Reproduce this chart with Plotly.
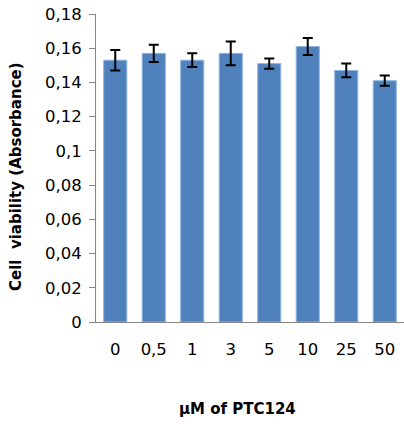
import plotly.graph_objects as go

categories = ["0", "0,5", "1", "3", "5", "10", "25", "50"]
values = [0.153, 0.157, 0.153, 0.157, 0.151, 0.161, 0.147, 0.141]
errors = [0.006, 0.005, 0.004, 0.007, 0.003, 0.005, 0.004, 0.003]
y_tickvals = [0, 0.02, 0.04, 0.06, 0.08, 0.1, 0.12, 0.14, 0.16, 0.18]
y_ticktext = ["0", "0,02", "0,04", "0,06", "0,08", "0,1", "0,12", "0,14", "0,16", "0,18"]
x_title = "µM of PTC124"
y_title = "Cell  viability (Absorbance)"

font_family = "DejaVu Sans, sans-serif"

fig = go.Figure(go.Bar(
    x=categories, y=values,
    marker=dict(color="#4F81BD", line=dict(color="#8EB4E3", width=1)),
    width=0.6,
    error_y=dict(type="data", array=errors, color="black", thickness=2, width=5),
))

fig.update_layout(
    width=404, height=424,
    margin=dict(l=96, r=0, t=14, b=102),
    plot_bgcolor="white", paper_bgcolor="white",
    showlegend=False,
    font=dict(family=font_family, size=16, color="black"),
    xaxis=dict(
        showline=True, linecolor="#868686", linewidth=1,
        ticks="", tickfont=dict(size=16.5), ticklabelstandoff=12,
    ),
    yaxis=dict(
        range=[0, 0.18], tickvals=y_tickvals, ticktext=y_ticktext,
        showline=True, linecolor="#868686", linewidth=1,
        ticks="outside", ticklen=6, tickcolor="#868686",
        showgrid=False, zeroline=False, tickfont=dict(size=16.5),
        ticklabelstandoff=4,
    ),
    annotations=[
        dict(text="<b>" + x_title + "</b>", xref="paper", yref="paper",
             x=0.461, y=-0.2825, xanchor="center", yanchor="middle",
             showarrow=False, font=dict(size=15)),
        dict(text="<b>" + y_title + "</b>", xref="paper", yref="paper",
             x=-0.2597, y=0.4708, xanchor="center", yanchor="middle",
             textangle=-90, showarrow=False, font=dict(size=15)),
    ],
)

fig.write_html(
    "out.html",
    config={"displayModeBar": False},
    post_script="document.body.style.margin='0';document.body.style.overflow='hidden';",
)
